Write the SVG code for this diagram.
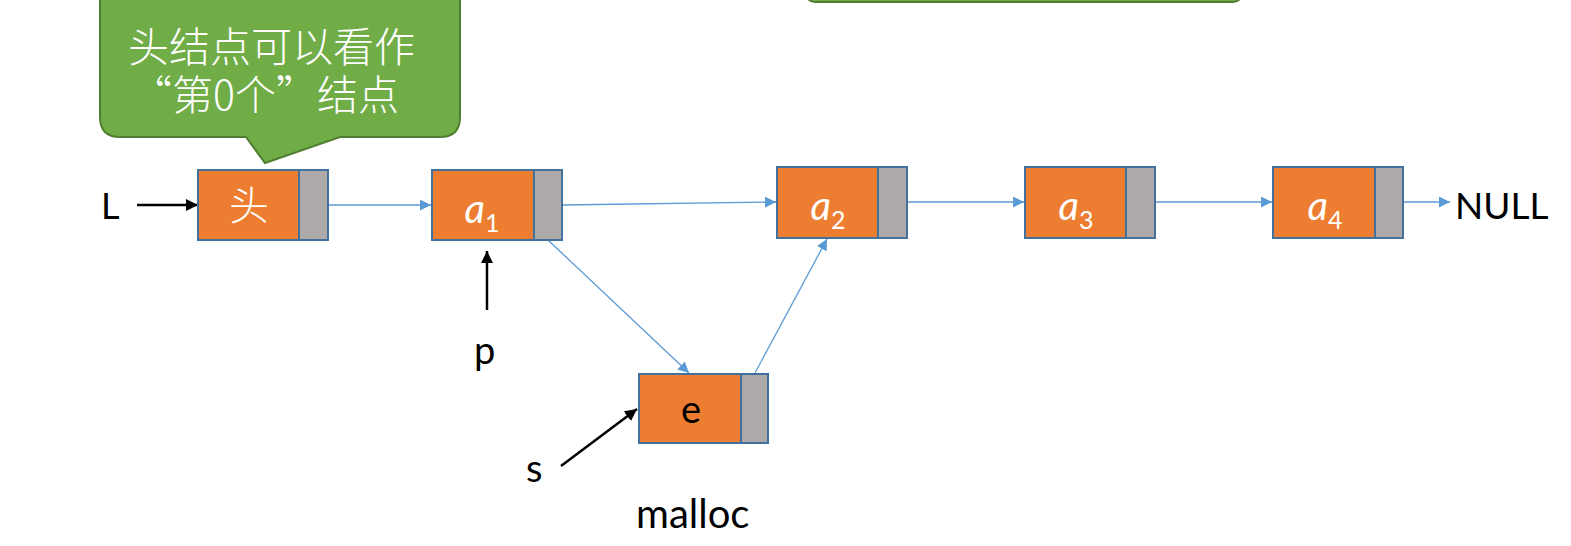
<svg xmlns="http://www.w3.org/2000/svg" width="1571" height="546" viewBox="0 0 1571 546">
<style>
.data{fill:#ED7D31;stroke:#41719C;stroke-width:2}
.ptr{fill:#AEAAAA;stroke:#41719C;stroke-width:2}
.lbl{font-family:Lato,"Open Sans","Noto Sans CJK SC",sans-serif;fill:#000}
.in{font-family:Lato,"Open Sans","Noto Sans CJK SC",sans-serif;fill:#fff;text-anchor:middle}
.it{font-style:italic}
.blue{stroke:#5B9BD5;stroke-width:1.3;fill:none;marker-end:url(#ab)}
.blk{stroke:#000;stroke-width:2.5;fill:none;marker-end:url(#ak)}
</style>
<defs>
<marker id="ab" viewBox="0 0 10 10" refX="10" refY="5" markerWidth="11" markerHeight="11" markerUnits="userSpaceOnUse" orient="auto"><path d="M0,0 L10,5 L0,10 z" fill="#5B9BD5"/></marker>
<marker id="ak" viewBox="0 0 10 10" refX="10" refY="5" markerWidth="12" markerHeight="12" markerUnits="userSpaceOnUse" orient="auto"><path d="M0,0 L10,5 L0,10 z" fill="#000"/></marker>
</defs>
<g id="topbox"><rect x="805" y="-40" width="438" height="42" rx="10" fill="#70AD47" stroke="#507E32" stroke-width="2"/></g>
<g id="callout">
<path d="M120,-20 H440 Q460,-20 460,0 V117 Q460,137 440,137 H340 L265,163 L246,137 H120 Q100,137 100,117 V0 Q100,-20 120,-20 Z" fill="#70AD47" stroke="#507E32" stroke-width="2"/>
<text font-size="41" font-family="'Noto Sans CJK SC',sans-serif" font-weight="300" fill="#fff"><tspan x="128" y="62">头结点可以看作</tspan><tspan x="131" y="110">“第0个”结点</tspan></text>
</g>
<g id="connectors">
<line class="blue" x1="328" y1="205" x2="431" y2="205"/>
<line class="blue" x1="562" y1="205" x2="776" y2="202"/>
<line class="blue" x1="548" y1="240" x2="689" y2="373"/>
<line class="blue" x1="755" y1="373" x2="827" y2="239"/>
<line class="blue" x1="907" y1="202" x2="1024" y2="202"/>
<line class="blue" x1="1155" y1="202" x2="1272" y2="202"/>
<line class="blue" x1="1403" y1="202" x2="1450" y2="202"/>
<line class="blk" x1="137" y1="205" x2="198" y2="205"/>
<line class="blk" x1="487" y1="310" x2="487" y2="251"/>
<line class="blk" x1="561" y1="466" x2="637" y2="409"/>
</g>
<g id="head"><rect class="data" x="198" y="170" width="101" height="70"/><rect class="ptr" x="299" y="170" width="29" height="70"/><text class="in" x="249" y="220" font-size="40" font-weight="300" font-family="'Noto Sans CJK SC',sans-serif">头</text></g>
<g id="a1"><rect class="data" x="432" y="170" width="102" height="70"/><rect class="ptr" x="534" y="170" width="28" height="70"/><text class="in" x="482" y="223" font-size="40"><tspan class="it">a</tspan><tspan font-size="25" dy="9">1</tspan></text></g>
<g id="a2"><rect class="data" x="777" y="167" width="101" height="71"/><rect class="ptr" x="878" y="167" width="29" height="71"/><text class="in" x="828" y="220" font-size="40"><tspan class="it">a</tspan><tspan font-size="25" dy="9">2</tspan></text></g>
<g id="a3"><rect class="data" x="1025" y="167" width="101" height="71"/><rect class="ptr" x="1126" y="167" width="29" height="71"/><text class="in" x="1076" y="220" font-size="40"><tspan class="it">a</tspan><tspan font-size="25" dy="9">3</tspan></text></g>
<g id="a4"><rect class="data" x="1273" y="167" width="102" height="71"/><rect class="ptr" x="1375" y="167" width="28" height="71"/><text class="in" x="1325" y="220" font-size="40"><tspan class="it">a</tspan><tspan font-size="25" dy="9">4</tspan></text></g>
<g id="e"><rect class="data" x="639" y="374" width="102" height="69"/><rect class="ptr" x="741" y="374" width="27" height="69"/><text x="691" y="423" font-size="38" font-family="Lato,'Open Sans',sans-serif" text-anchor="middle" fill="#000">e</text></g>
<g id="labels">
<text class="lbl" x="101" y="219" font-size="36">L</text>
<text class="lbl" x="1455" y="219" font-size="37">NULL</text>
<text class="lbl" x="474" y="364" font-size="38">p</text>
<text class="lbl" x="526" y="482" font-size="38">s</text>
<text class="lbl" x="636" y="528" font-size="40">malloc</text>
</g>
</svg>
